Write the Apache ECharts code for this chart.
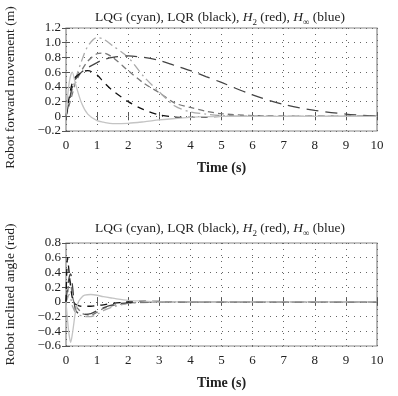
<!DOCTYPE html>
<html>
<head>
<meta charset="utf-8">
<script src="https://cdn.jsdelivr.net/npm/echarts@6/dist/echarts.min.js"></script>
<style>
  html, body { margin: 0; padding: 0; background: #fff; }
  #chart { width: 398px; height: 396px; }
</style>
</head>
<body>
<div id="chart"></div>
<script>
var chart = echarts.init(document.getElementById("chart"));

// top plot: forward movement (m)
var moveTime = [0, 0.1, 0.2, 0.3, 0.5, 0.7, 1, 1.2, 1.5, 2, 2.5, 3, 3.5, 4, 4.5, 5, 6, 7, 8, 9, 10];
var moveLqg = [0, 0.45, 0.6, 0.45, 0.18, 0.03, -0.06, -0.08, -0.1, -0.095, -0.075, -0.05, -0.03, -0.015, -0.005, 0, 0, 0, 0, 0, 0];
var moveLqr = [0, 0.25, 0.45, 0.53, 0.6, 0.62, 0.56, 0.47, 0.35, 0.2, 0.09, 0.02, -0.01, -0.015, -0.01, 0, 0, 0, 0, 0, 0];
var moveH2 = [0, 0.2, 0.4, 0.5, 0.6, 0.66, 0.73, 0.77, 0.8, 0.82, 0.8, 0.76, 0.69, 0.62, 0.54, 0.46, 0.29, 0.16, 0.08, 0.03, 0];
var moveHinf = [0, 0.2, 0.35, 0.5, 0.75, 0.95, 1.07, 1.05, 0.96, 0.8, 0.54, 0.33, 0.14, 0.06, 0.03, 0.01, 0, 0, 0, 0, 0];
var moveExtra = [0, 0.15, 0.3, 0.45, 0.62, 0.75, 0.85, 0.86, 0.8, 0.62, 0.45, 0.32, 0.18, 0.12, 0.07, 0.035, 0.01, 0, 0, 0, 0];

// bottom plot: inclined angle (rad)
var angleTime = [0, 0.05, 0.1, 0.15, 0.2, 0.25, 0.3, 0.4, 0.5, 0.6, 0.8, 1, 1.2, 1.5, 2, 2.5, 3, 4, 5, 6, 7, 8, 9, 10];
var angleLqg = [0, -0.25, -0.45, -0.55, -0.45, -0.3, -0.15, 0, 0.06, 0.09, 0.1, 0.09, 0.07, 0.05, 0.02, 0.01, 0, 0, 0, 0, 0, 0, 0, 0];
var angleLqr = [0, 0.6, 0.4, 0.2, 0.06, 0, -0.03, -0.05, -0.06, -0.06, -0.06, -0.05, -0.04, -0.02, 0, 0.01, 0.005, 0, 0, 0, 0, 0, 0, 0];
var angleH2 = [0, 0.2, 0.33, 0.38, 0.25, 0.05, -0.1, -0.16, -0.17, -0.17, -0.16, -0.12, -0.08, -0.04, -0.01, 0, 0, 0, 0, 0, 0, 0, 0, 0];
var angleHinf = [0, 0.05, 0.1, 0.05, -0.05, -0.1, -0.14, -0.17, -0.19, -0.2, -0.2, -0.17, -0.12, -0.07, -0.02, -0.01, 0, 0, 0, 0, 0, 0, 0, 0];
var angleExtra = [0, 0.1, 0.3, 0.25, 0.1, 0, -0.05, -0.1, -0.15, -0.17, -0.18, -0.14, -0.09, -0.05, -0.02, 0, 0, 0, 0, 0, 0, 0, 0, 0];

var serif = "Liberation Serif";

function pairs(t, v) {
    return t.map(function (x, i) { return [x, v[i]]; });
}

function yLabel(v) {
    if (Math.abs(v) < 1e-9) return "0";
    return v.toFixed(1).replace("-", "\u2212");
}

// 线型：按灰度区分
var styles = [
    { color: "#c4c4c4", type: "solid" },
    { color: "#111111", type: [7, 6] },
    { color: "#444444", type: [12, 7] },
    { color: "#aaaaaa", type: [9, 4, 2, 4] },
    { color: "#777777", type: [6, 4] }
];

function lines(gridIdx, t, list) {
    return list.map(function (v, i) {
        return {
            type: "line",
            xAxisIndex: gridIdx * 2,
            yAxisIndex: gridIdx * 2,
            data: pairs(t, v),
            showSymbol: false,
            smooth: 0.3,
            lineStyle: { color: styles[i].color, type: styles[i].type, width: 1.3 },
            z: 5 - i
        };
    });
}

function titleText() {
    return "{n|LQG (cyan), LQR (black), }{i|H}{s|2}{n| (red), }{i|H}{s|\u221e}{n| (blue)}";
}
var titleRich = {
    n: { fontFamily: serif, fontSize: 13.5, fontWeight: "normal", color: "#222", lineHeight: 20 },
    i: { fontFamily: serif, fontSize: 13.5, fontWeight: "normal", fontStyle: "italic", color: "#222", lineHeight: 20 },
    s: { fontFamily: serif, fontSize: 9, fontWeight: "normal", color: "#222", lineHeight: 11, verticalAlign: "bottom" }
};

function xAxes(gridIdx) {
    return [
        {
            type: "value", gridIndex: gridIdx, min: 0, max: 10, interval: 1,
            name: "Time (s)", nameLocation: "middle", nameGap: 30,
            nameTextStyle: { fontFamily: serif, fontSize: 14, color: "#222", fontWeight: "bold" },
            axisLine: { show: false },
            axisTick: { show: true, inside: true, length: 4, lineStyle: { color: "#555" } },
            axisLabel: { fontFamily: serif, fontSize: 13, color: "#222", margin: 8 },
            splitLine: { show: true, lineStyle: { color: "#666", type: [1, 5] } }
        },
        {
            type: "value", gridIndex: gridIdx, position: "top", min: 0, max: 10, interval: 1,
            axisLine: { show: false },
            axisTick: { show: true, inside: true, length: 4, lineStyle: { color: "#555" } },
            axisLabel: { show: false },
            splitLine: { show: false }
        }
    ];
}

function yAxes(gridIdx, name, min, max, namePad) {
    return [
        {
            type: "value", gridIndex: gridIdx, min: min, max: max, interval: 0.2,
            name: name, nameLocation: "middle", nameGap: 49,
            nameTextStyle: { fontFamily: serif, fontSize: 13.5, color: "#222", padding: namePad },
            axisLine: { show: false },
            axisTick: { show: true, inside: true, length: 4, lineStyle: { color: "#555" } },
            axisLabel: { fontFamily: serif, fontSize: 13, color: "#222", margin: 5, formatter: yLabel,
                showMinLabel: true, showMaxLabel: true, hideOverlap: false },
            splitLine: { show: true, lineStyle: { color: "#666", type: [1, 5] } }
        },
        {
            type: "value", gridIndex: gridIdx, position: "right", min: min, max: max, interval: 0.2,
            axisLine: { show: false },
            axisTick: { show: true, inside: true, length: 4, lineStyle: { color: "#555" } },
            axisLabel: { show: false },
            splitLine: { show: false }
        }
    ];
}

var option = {
    backgroundColor: "#fff",
    animation: false,
    title: [
        { text: titleText(), left: 215, top: 2, textAlign: "center", textStyle: { fontWeight: "normal", rich: titleRich } },
        { text: titleText(), left: 215, top: 213, textAlign: "center", textStyle: { fontWeight: "normal", rich: titleRich } }
    ],
    grid: [
        { left: 66, right: 21, top: 28, height: 103, show: true, borderColor: "#888", borderWidth: 1.2, outerBoundsMode: "none" },
        { left: 66, right: 21, top: 243, height: 103, show: true, borderColor: "#888", borderWidth: 1.2, outerBoundsMode: "none" }
    ],
    xAxis: xAxes(0).concat(xAxes(1)),
    yAxis: yAxes(0, "Robot forward movement (m)", -0.2, 1.2, [0, 16, 0, 0])
        .concat(yAxes(1, "Robot inclined angle (rad)", -0.6, 0.8, [0, 0, 0, 0])),
    series: lines(0, moveTime, [moveLqg, moveLqr, moveH2, moveHinf, moveExtra])
        .concat(lines(1, angleTime, [angleLqg, angleLqr, angleH2, angleHinf, angleExtra]))
};

chart.setOption(option);
</script>
</body>
</html>
